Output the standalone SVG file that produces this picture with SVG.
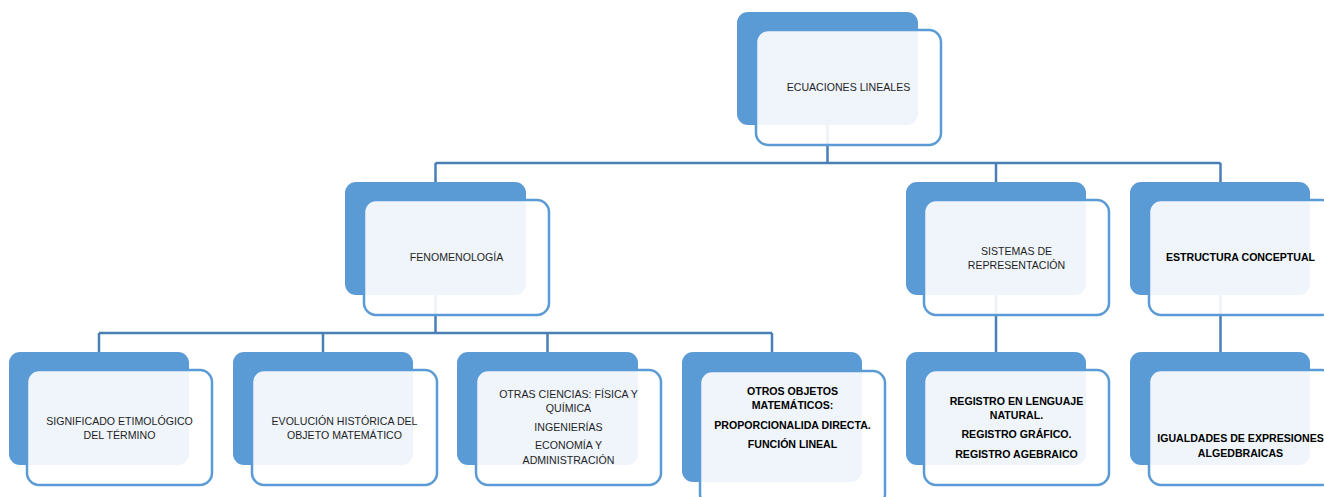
<svg xmlns="http://www.w3.org/2000/svg" width="1324" height="497" viewBox="0 0 1324 497">
<style>
.bk{fill:#5B9BD5}
.fr{fill:#FFFFFF;fill-opacity:0.9;stroke:#5B9BD5;stroke-width:2.5}
.cn{stroke:#4A7EB5;stroke-width:2.5;fill:none}
text{font-family:"Liberation Sans",Arial,sans-serif;font-size:10.6px;fill:#1f1f1f;text-anchor:middle}
.b{font-weight:bold;fill:#000}
</style>
<rect width="1324" height="497" fill="#FFFFFF"/>
<g id="connectors">
<path class="cn" d="M827.5 125V163M435.5 163H1220.5M435.5 163V182M996 163V182M1220.5 163V182"/>
<path class="cn" d="M435.5 295V333M99 333H772M99 333V352M323 333V352M547.5 333V352M772 333V352"/>
<path class="cn" d="M996 295V352M1220.5 295V352"/>
</g>
<g id="n-ecuaciones">
<rect class="bk" x="737" y="12" width="181" height="113" rx="11"/>
<rect class="fr" x="756" y="30" width="185" height="115" rx="12"/>
<text x="848.5" y="91">ECUACIONES LINEALES</text>
</g>
<g id="n-fenomenologia">
<rect class="bk" x="345" y="182" width="181" height="113" rx="11"/>
<rect class="fr" x="364" y="200" width="185" height="115" rx="12"/>
<text x="456.5" y="261">FENOMENOLOGÍA</text>
</g>
<g id="n-sistemas">
<rect class="bk" x="906" y="182" width="180" height="113" rx="11"/>
<rect class="fr" x="924" y="200" width="185" height="115" rx="12"/>
<text x="1016.5" y="255">SISTEMAS DE</text>
<text x="1016.5" y="269">REPRESENTACIÓN</text>
</g>
<g id="n-estructura">
<rect class="bk" x="1130" y="182" width="180" height="113" rx="11"/>
<rect class="fr" x="1149" y="200" width="185" height="115" rx="12"/>
<text class="b" x="1240.5" y="261">ESTRUCTURA CONCEPTUAL</text>
</g>
<g id="n-significado">
<rect class="bk" x="9" y="352" width="180" height="113" rx="11"/>
<rect class="fr" x="27" y="370" width="185" height="115" rx="12"/>
<text x="119.5" y="425">SIGNIFICADO ETIMOLÓGICO</text>
<text x="119.5" y="439">DEL TÉRMINO</text>
</g>
<g id="n-evolucion">
<rect class="bk" x="233" y="352" width="180" height="113" rx="11"/>
<rect class="fr" x="252" y="370" width="185" height="115" rx="12"/>
<text x="344.5" y="425">EVOLUCIÓN HISTÓRICA DEL</text>
<text x="344.5" y="439">OBJETO MATEMÁTICO</text>
</g>
<g id="n-otras">
<rect class="bk" x="457" y="352" width="181" height="113" rx="11"/>
<rect class="fr" x="476" y="370" width="185" height="115" rx="12"/>
<text x="568.5" y="398">OTRAS CIENCIAS: FÍSICA Y</text>
<text x="568.5" y="412">QUÍMICA</text>
<text x="568.5" y="431">INGENIERÍAS</text>
<text x="568.5" y="449">ECONOMÍA Y</text>
<text x="568.5" y="464">ADMINISTRACIÓN</text>
</g>
<g id="n-otros">
<rect class="bk" x="682" y="352" width="180" height="130" rx="11"/>
<rect class="fr" x="700" y="371" width="185" height="135" rx="12"/>
<text class="b" x="792.5" y="395">OTROS OBJETOS</text>
<text class="b" x="792.5" y="409">MATEMÁTICOS:</text>
<text class="b" x="792.5" y="429">PROPORCIONALIDA DIRECTA.</text>
<text class="b" x="792.5" y="448">FUNCIÓN LINEAL</text>
</g>
<g id="n-registro">
<rect class="bk" x="906" y="352" width="180" height="113" rx="11"/>
<rect class="fr" x="924" y="370" width="185" height="115" rx="12"/>
<text class="b" x="1016.5" y="405">REGISTRO EN LENGUAJE</text>
<text class="b" x="1016.5" y="419">NATURAL.</text>
<text class="b" x="1016.5" y="438">REGISTRO GRÁFICO.</text>
<text class="b" x="1016.5" y="458">REGISTRO AGEBRAICO</text>
</g>
<g id="n-igualdades">
<rect class="bk" x="1130" y="352" width="180" height="113" rx="11"/>
<rect class="fr" x="1149" y="370" width="185" height="115" rx="12"/>
<text class="b" x="1240.5" y="442">IGUALDADES DE EXPRESIONES</text>
<text class="b" x="1240.5" y="457">ALGEDBRAICAS</text>
</g>
</svg>
